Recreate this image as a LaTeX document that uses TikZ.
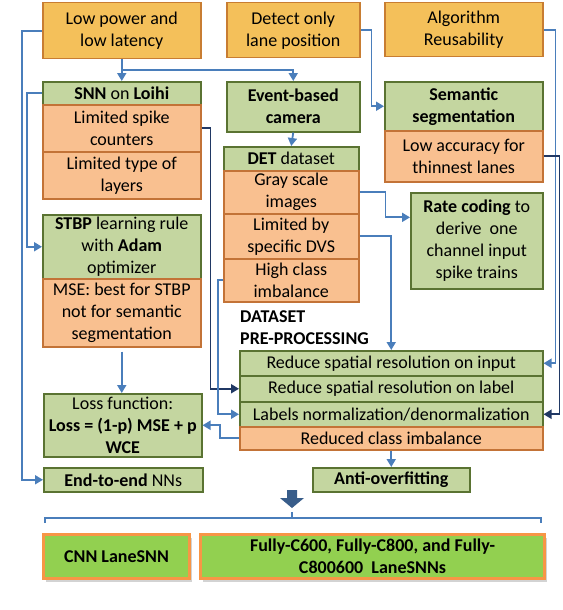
\documentclass[tikz,border=0pt]{standalone}
\usepackage{fontspec}
\setmainfont{Carlito}
\usetikzlibrary{arrows.meta,calc,shadows}
\definecolor{topfill}{RGB}{244,192,90}
\definecolor{topdraw}{RGB}{200,125,50}
\definecolor{gfill}{RGB}{196,214,160}
\definecolor{gdraw}{RGB}{90,115,50}
\definecolor{ofill}{RGB}{249,192,144}
\definecolor{odraw}{RGB}{195,115,55}
\definecolor{lblue}{RGB}{74,126,187}
\definecolor{dblue}{RGB}{32,56,100}
\definecolor{bgreen}{RGB}{146,208,80}
\definecolor{borange}{RGB}{247,150,70}
\definecolor{arrowblue}{RGB}{56,93,138}
\tikzset{
 base/.style={draw, line width=1.5pt, align=center, inner sep=1pt, font=\fontsize{18}{22}\selectfont, anchor=north west},
 topbox/.style={base, fill=topfill, draw=topdraw},
 gbox/.style={base, fill=gfill, draw=gdraw},
 obox/.style={base, fill=ofill, draw=odraw},
 resbox/.style={base, fill=bgreen, draw=borange, line width=3pt, font=\bfseries\fontsize{18}{22}\selectfont, drop shadow={shadow xshift=2pt, shadow yshift=-3pt, opacity=0.35, fill=gray}},
 lb/.style={draw=lblue, line width=1.8pt, -{Triangle[length=8pt,width=9pt]}},
 db/.style={draw=dblue, line width=1.8pt, -{Triangle[length=8pt,width=9pt]}},
 thinb/.style={draw=lblue, line width=1.2pt},
}
\newcommand\mkbox[7]{%
 \pgfmathsetmacro\bw{#5-#3}\pgfmathsetmacro\bh{#6-#4}%
 \node[#1, minimum width=\bw pt, minimum height=\bh pt] (#2) at (#3,#4) {#7};}
\begin{document}
\begin{tikzpicture}[x=1pt,y=-1pt]
\useasboundingbox (0,0) rectangle (562,610);
% top row
\mkbox{topbox}{lp}{42}{2}{200}{58}{Low power and\\low latency}
\mkbox{topbox}{det}{226}{2}{359}{57}{Detect only\\lane position}
\mkbox{topbox}{alg}{384}{2}{542}{56}{Algorithm\\Reusability}
% left column
\mkbox{gbox}{snn}{42}{81}{200}{104}{\textbf{SNN} on \textbf{Loihi}}
\mkbox{obox}{lsc}{42}{104}{200}{151}{Limited spike\\counters}
\mkbox{obox}{lty}{42}{151}{200}{198}{Limited type of\\layers}
\mkbox{gbox}{stbp}{42}{214}{200}{278}{\textbf{STBP} learning rule\\with \textbf{Adam}\\optimizer}
\mkbox{obox}{mse}{42}{278}{200}{346}{MSE: best for STBP\\not for semantic\\segmentation}
\mkbox{gbox}{loss}{43}{393}{201}{456}{Loss function:\\\textbf{Loss = (1-p) MSE + p}\\\textbf{WCE}}
\mkbox{gbox}{e2e}{43}{467}{202}{491}{\textbf{End-to-end} NNs}
% middle column
\mkbox{gbox}{ebc}{226}{81}{359}{131}{\textbf{Event-based}\\\textbf{camera}}
\mkbox{gbox}{detds}{223}{146}{358}{170}{\textbf{DET} dataset}
\mkbox{obox}{gray}{223}{170}{358}{213}{Gray scale\\images}
\mkbox{obox}{ldvs}{223}{213}{358}{258}{Limited by\\specific DVS}
\mkbox{obox}{hci}{223}{258}{358}{301}{High class\\imbalance}
% right column
\mkbox{gbox}{sem}{384}{81}{542}{130}{\textbf{Semantic}\\\textbf{segmentation}}
\mkbox{obox}{lacc}{384}{130}{542}{181}{Low accuracy for\\thinnest lanes}
\mkbox{gbox}{rate}{410}{192}{542}{288}{\textbf{Rate coding} to\\derive~ one\\channel input\\spike trains}
% dataset pre-processing
\node[font=\bfseries\fontsize{18}{22}\selectfont, align=left, anchor=north west, inner sep=0pt] (dsl) at (240,310) {DATASET\\PRE-PROCESSING};
\mkbox{gbox}{rin}{239}{350}{542}{375}{Reduce spatial resolution on input}
\mkbox{gbox}{rlab}{239}{375}{542}{401}{Reduce spatial resolution on label}
\mkbox{gbox}{lnorm}{239}{401}{542}{426}{Labels normalization/denormalization}
\mkbox{obox}{rci}{239}{426}{542}{449}{Reduced class imbalance}
\mkbox{gbox}{anti}{312}{467}{469}{491}{\textbf{Anti-overfitting}}
% results
\mkbox{resbox}{cnn}{42}{533}{188}{577}{CNN LaneSNN}
\mkbox{resbox}{fully}{199}{533}{543}{577}{Fully-C600, Fully-C800, and Fully-\\C800600~ LaneSNNs}
% connectors
\coordinate (split) at ($(lp.south)!0.5!(snn.north)$);
\draw[lb] (lp.south) -- (snn.north);
\draw[lb] (split) -| (ebc.north);
\draw[lb] (lp.west) -- ++(-20,0) |- (e2e.west);
\draw[lb] (snn.west) -- ++(-15,0) |- (stbp.west);
\draw[db] (lsc.east) -- ++(9,0) |- (rlab.west);
\draw[lb] (det.east) -- ++(11,0) |- (sem.west);
\draw[lb] (alg.east) -- ++(12,0) |- (rin.east);
\draw[db] (lacc.east) -- ++(16,0) |- (lnorm.east);
\draw[lb] (ebc.south) -- (detds.north);
\coordinate (ratein) at ($(rate.north west)!0.26!(rate.south west)$);
\draw[lb] (gray.east) -- ++(26,0) |- (ratein);
\draw[lb] (ldvs.east) -| (rin.north);
\draw[lb] (hci.west) -- ++(-5,0) |- (lnorm.west);
\draw[lb] (rci.west) -- ++(-19,0) |- (loss.east);
\draw[lb] (rci.south) -- (anti.north);
\draw[lb, shorten <=4pt] (mse.south) -- (mse.south |- loss.north);
% block arrow
\fill[arrowblue] (287,490) -- (297,490) -- (297,498) -- (304,498) -- (292,508) -- (280,498) -- (287,498) -- cycle;
% brace
\draw[thinb] (45,523) -- (45,518) -- (541,518) -- (541,523);
\draw[thinb] (292,518) -- (292,512);
\end{tikzpicture}
\end{document}
